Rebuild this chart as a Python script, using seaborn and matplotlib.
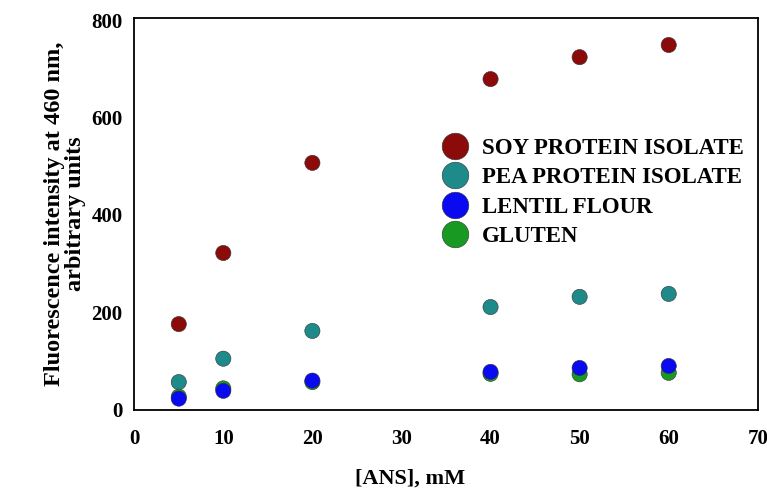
import matplotlib
matplotlib.use("Agg")
import matplotlib.pyplot as plt
import seaborn as sns
import pandas as pd

# [ANS] concentrations, mM
ans = [5, 10, 20, 40, 50, 60]

soy = [176, 322, 507, 679, 724, 749]
pea = [57, 105, 162, 211, 232, 238]
lentil = [23, 39, 60, 78, 86, 90]
gluten = [27, 44, 57, 74, 73, 76]

series_names = ["SOY PROTEIN ISOLATE", "PEA PROTEIN ISOLATE",
                "LENTIL FLOUR", "GLUTEN"]
colors = ["#8b0a0a", "#1e8a8a", "#0a0af0", "#189a22"]

x_ticks = [0, 10, 20, 30, 40, 50, 60, 70]
y_ticks = [0, 200, 400, 600, 800]


def build_frame():
    # gluten goes in before lentil so the blue dots sit on top
    parts = [
        (series_names[0], soy),
        (series_names[1], pea),
        (series_names[3], gluten),
        (series_names[2], lentil),
    ]
    rows = []
    for name, vals in parts:
        for x, y in zip(ans, vals):
            rows.append({"ans": x, "value": y, "sample": name})
    return pd.DataFrame(rows)


def main():
    sns.set_style("white")
    plt.rcParams["font.family"] = ["Liberation Serif", "DejaVu Serif"]
    plt.rcParams["font.weight"] = "bold"
    plt.rcParams["text.color"] = "black"
    plt.rcParams["axes.labelcolor"] = "black"
    plt.rcParams["xtick.color"] = "black"
    plt.rcParams["ytick.color"] = "black"

    df = build_frame()
    fig = plt.figure(figsize=(7.67, 4.92), dpi=100)
    ax = fig.add_axes([0.175, 0.167, 0.813, 0.797])

    sns.scatterplot(
        data=df, x="ans", y="value", hue="sample",
        hue_order=series_names, palette=colors,
        s=120, edgecolor="#333333", linewidth=0.4, ax=ax,
    )

    ax.set_xlim(0, 70)
    ax.set_ylim(0, 805)
    ax.set_xticks(x_ticks)
    ax.set_yticks(y_ticks)
    ax.tick_params(axis="x", direction="inout", length=8, width=1.2,
                   labelsize=15, pad=10)
    ax.tick_params(axis="y", direction="out", length=5, width=1.2,
                   labelsize=15)
    for lab in ax.get_xticklabels() + ax.get_yticklabels():
        lab.set_fontweight("bold")
    for sp in ax.spines.values():
        sp.set_color("black")
        sp.set_linewidth(1.3)

    ax.set_xlabel("[ANS], mM", fontsize=16, fontweight="bold")
    ax.xaxis.set_label_coords(0.443, -0.15)
    ax.set_ylabel("Fluorescence intensity at 460 nm,\narbitrary units",
                  fontsize=17.5, fontweight="bold", linespacing=1.0)
    ax.yaxis.set_label_coords(-0.078, 0.5)

    ax.legend(
        loc="center left", bbox_to_anchor=(0.46, 0.554), frameon=False,
        markerscale=1.75, handletextpad=0.15, labelspacing=0.36,
        prop={"size": 16.5, "weight": "bold"}, borderpad=0,
    )

    fig.savefig("out.png", dpi=100)


if __name__ == "__main__":
    main()
